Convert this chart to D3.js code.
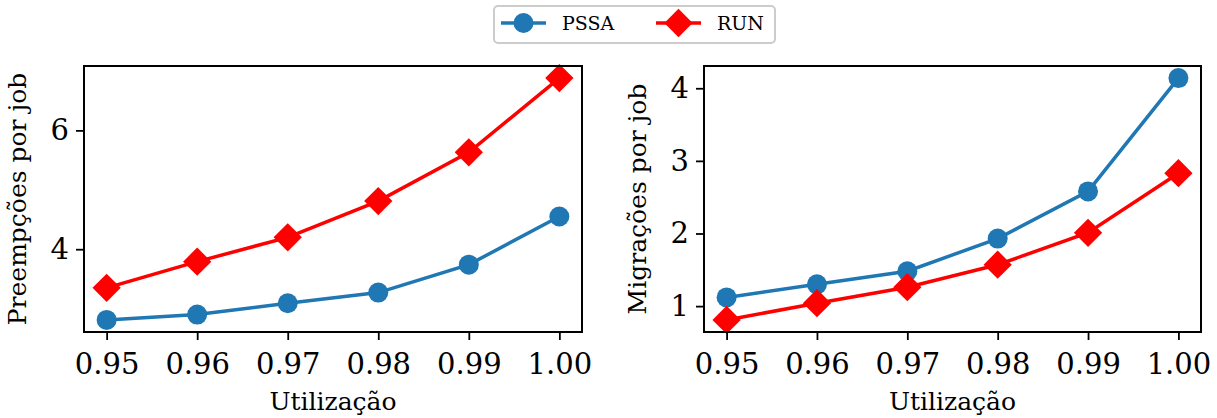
<!DOCTYPE html>
<html>
<head>
<meta charset="utf-8">
<script src="https://cdn.jsdelivr.net/npm/d3@7"></script>
<style>
  body { margin: 0; background: #fff; }
  svg text { font-family: "DejaVu Serif", serif; fill: #000; }
</style>
</head>
<body>
<svg id="chart" width="1217" height="418"></svg>
<script>
// ------------------- Data -------------------
const utilization = [0.95, 0.96, 0.97, 0.98, 0.99, 1.00];
const xTickLabels = ["0.95", "0.96", "0.97", "0.98", "0.99", "1.00"];

const preemptPSSA = [2.81, 2.90, 3.09, 3.27, 3.74, 4.55];
const preemptRUN  = [3.35, 3.79, 4.20, 4.81, 5.63, 6.88];

const migratePSSA = [1.12, 1.30, 1.48, 1.93, 2.58, 4.14];
const migrateRUN  = [0.81, 1.04, 1.26, 1.57, 2.01, 2.83];

const seriesNames = ["PSSA", "RUN"];
const colors = { PSSA: "#1f77b4", RUN: "#ff0000" };

// ------------------- Setup -------------------
const svg = d3.select("#chart");
const tickFont = 29, labelFont = 25, legendFont = 19;

const diamond = d3.symbol().type(d3.symbolSquare).size(20 * 20);

function drawMarker(sel, name, x, y) {
  if (name === "PSSA") {
    sel.append("circle").attr("cx", x).attr("cy", y).attr("r", 10)
       .attr("fill", colors.PSSA);
  } else {
    sel.append("path").attr("d", diamond)
       .attr("transform", `translate(${x},${y}) rotate(45)`)
       .attr("fill", colors.RUN);
  }
}

function panel(box, series, yTicks, yLabel, yLabelOffset) {
  const g = svg.append("g");

  const xExt = d3.extent(utilization);
  const xPad = (xExt[1] - xExt[0]) * 0.05;
  const x = d3.scaleLinear().domain([xExt[0] - xPad, xExt[1] + xPad])
              .range([box.left, box.right]);

  const all = series.flatMap(s => s.values);
  const yExt = d3.extent(all);
  const yPad = (yExt[1] - yExt[0]) * 0.05;
  const y = d3.scaleLinear().domain([yExt[0] - yPad, yExt[1] + yPad])
              .range([box.bottom, box.top]);

  // lines + markers
  const line = d3.line().x((d, i) => x(utilization[i])).y(d => y(d));
  series.forEach(s => {
    g.append("path").datum(s.values)
      .attr("d", line)
      .attr("fill", "none")
      .attr("stroke", colors[s.name])
      .attr("stroke-width", 3.5);
    s.values.forEach((v, i) => drawMarker(g, s.name, x(utilization[i]), y(v)));
  });

  // axes
  const xAxis = d3.axisBottom(x).tickValues(utilization)
                  .tickFormat((d, i) => xTickLabels[i])
                  .tickSize(8).tickPadding(13);
  const xa = g.append("g").attr("transform", `translate(0,${box.bottom})`).call(xAxis);

  const yAxis = d3.axisLeft(y).tickValues(yTicks).tickFormat(d3.format("d"))
                  .tickSize(8).tickPadding(7);
  const ya = g.append("g").attr("transform", `translate(${box.left},0)`).call(yAxis);

  [xa, ya].forEach(a => {
    a.select(".domain").remove();
    a.selectAll("line").attr("stroke", "#000").attr("stroke-width", 1.8);
    a.selectAll("text").attr("font-size", tickFont)
      .attr("font-family", "DejaVu Serif").attr("fill", "#000");
  });

  // frame
  g.append("rect")
    .attr("x", box.left).attr("y", box.top)
    .attr("width", box.right - box.left).attr("height", box.bottom - box.top)
    .attr("fill", "none").attr("stroke", "#000").attr("stroke-width", 2);

  // labels
  g.append("text")
    .attr("x", (box.left + box.right) / 2).attr("y", 410)
    .attr("text-anchor", "middle").attr("font-size", labelFont)
    .text("Utilização");

  g.append("text")
    .attr("transform", `translate(${box.left - yLabelOffset},${(box.top + box.bottom) / 2}) rotate(-90)`)
    .attr("text-anchor", "middle").attr("font-size", labelFont)
    .text(yLabel);
}

panel({ left: 84, right: 582, top: 66, bottom: 332 },
      [{ name: "PSSA", values: preemptPSSA }, { name: "RUN", values: preemptRUN }],
      [4, 6], "Preempções por job", 58);

panel({ left: 704, right: 1201, top: 66, bottom: 332 },
      [{ name: "PSSA", values: migratePSSA }, { name: "RUN", values: migrateRUN }],
      [1, 2, 3, 4], "Migrações por job", 58);

// ------------------- Legend -------------------
const legend = svg.append("g").attr("class", "legend");
legend.append("rect")
  .attr("x", 494).attr("y", 6).attr("width", 281).attr("height", 37).attr("rx", 4)
  .attr("fill", "#fff").attr("stroke", "#cccccc").attr("stroke-width", 2);

const legendX = [501, 656];
seriesNames.forEach((name, i) => {
  const x0 = legendX[i];
  legend.append("line")
    .attr("x1", x0).attr("x2", x0 + 45).attr("y1", 23).attr("y2", 23)
    .attr("stroke", colors[name]).attr("stroke-width", 3.5);
  drawMarker(legend, name, x0 + 22.5, 23);
  legend.append("text")
    .attr("x", x0 + 61).attr("y", 30)
    .attr("font-size", legendFont)
    .text(name);
});
</script>
</body>
</html>
